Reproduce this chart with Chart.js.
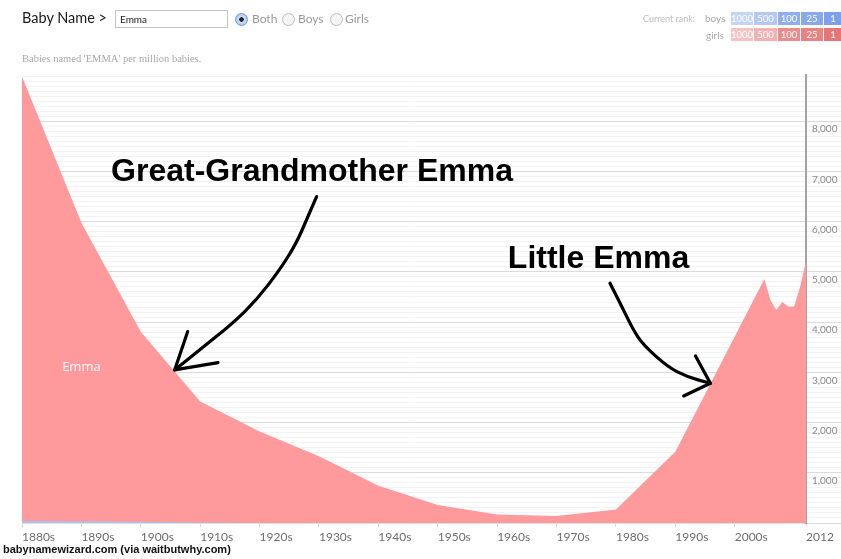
<!DOCTYPE html>
<html>
<head>
<meta charset="utf-8">
<script src="https://cdn.jsdelivr.net/npm/chart.js@4/dist/chart.umd.min.js"></script>
<style>
  body { margin: 0; background: #fff; font-family: Lato, "Open Sans", sans-serif; }
  #wrap { position: relative; width: 841px; height: 559px; overflow: hidden; }
  #chart { position: absolute; left: 0; top: 0; }
  .abs { position: absolute; white-space: nowrap; }
  .title { left: 22px; top: 9px; font-size: 14.5px; color: #1a1a1a; }
  .input { left: 115px; top: 10px; width: 107px; height: 16px; border: 1px solid #c4c4c4; font-size: 10px; line-height: 16px; padding-left: 4px; color: #222; }
  .radio { width: 11px; height: 11px; border-radius: 50%; border: 1px solid #bbb; background: #f4f4f4; }
  .radio.on { border-color: #6a9be0; background: radial-gradient(circle, #222 0 2px, #cfe2fb 2.5px, #8db8f0 100%); }
  .rlabel { font-size: 12px; color: #9a9a9a; top: 11px; }
  .sub { left: 22px; top: 53px; font-family: "Liberation Serif", "DejaVu Serif", serif; font-size: 10.5px; color: #a8a8a8; }
  .rank { font-size: 9px; color: #bdbdbd; }
  .box { height: 13px; font-size: 9.5px; color: #fff; text-align: center; line-height: 13px; }
  .foot { left: 3px; top: 543px; font-family: "Liberation Sans", Arial, sans-serif; font-weight: bold; font-size: 11px; color: #111; }
</style>
</head>
<body>
<div id="wrap">
  <canvas id="chart" width="841" height="559"></canvas>
  <div class="abs title">Baby Name &gt;</div>
  <div class="abs input">Emma</div>
  <div class="abs radio on" style="left:235px; top:13px"></div>
  <div class="abs rlabel" style="left:252px">Both</div>
  <div class="abs radio" style="left:282px; top:13px"></div>
  <div class="abs rlabel" style="left:298px">Boys</div>
  <div class="abs radio" style="left:330px; top:13px"></div>
  <div class="abs rlabel" style="left:345px">Girls</div>
  <div class="abs sub">Babies named 'EMMA' per million babies.</div>
  <div class="abs rank" style="left:643px; top:13px">Current rank:</div>
  <div class="abs rank" style="left:705px; top:12px; font-size:10px; color:#aaa">boys</div>
  <div class="abs rank" style="left:706px; top:29px; font-size:10px; color:#aaa">girls</div>
  <div id="boxes"></div>
  <div class="abs foot">babynamewizard.com (via waitbutwhy.com)</div>
</div>
<script>
// Emma, per million babies
const years = [1880, 1890, 1900, 1910, 1920, 1930, 1940, 1950, 1960, 1970, 1980, 1990, 2005, 2006, 2007, 2008, 2009, 2010, 2011, 2012];
const girls = [8890, 5980, 3810, 2420, 1820, 1330, 740, 360, 170, 140, 270, 1420, 4860, 4440, 4240, 4400, 4310, 4310, 4700, 5210];
const boys  = [40, 35, 25, 12, 0, 0, 0, 0, 0, 0, 0, 0, 0, 0, 0, 0, 0, 0, 0, 0];

const tickYears = [1880, 1890, 1900, 1910, 1920, 1930, 1940, 1950, 1960, 1970, 1980, 1990, 2000, 2012];
const tickLabels = ["1880s", "1890s", "1900s", "1910s", "1920s", "1930s", "1940s", "1950s", "1960s", "1970s", "1980s", "1990s", "2000s", "2012"];

const rankLabels = ["1000", "500", "100", "25", "1"];
const boyRankColors = ["#c5d5f6", "#b3c8f3", "#8eaeee", "#87a8ec", "#7e9fe9"];
const girlRankColors = ["#f6c3c3", "#f3b2b2", "#ec8b8b", "#ea8282", "#e67676"];

// annotations, in (year, per-million) space
const notes = [
  { text: "Great-Grandmother Emma", year: 1895.0, value: 6800 },
  { text: "Little Emma", year: 1961.8, value: 5080 }
];
const arrows = [
  { path: [[1929.6, 6500], [1927.9, 6036], [1926.2, 5572], [1923.4, 5040], [1919.5, 4442], [1915.5, 3978], [1909.9, 3446], [1905.7, 3048]],
    head: [[1907.9, 3811], [1905.7, 3048], [1913.0, 3193]] },
  { path: [[1979.0, 4775], [1980.7, 4382], [1982.9, 3845], [1984.6, 3546], [1988.7, 3108], [1992.0, 2908], [1995.9, 2783]],
    head: [[1993.4, 3327], [1995.9, 2783], [1991.4, 2530]] }
];

const widths = [22, 23, 22, 22, 18];
let bx = 731;
let html = "";
rankLabels.forEach((r, i) => {
  html += `<div class="abs box" style="left:${bx}px; top:12px; width:${widths[i]}px; background:${boyRankColors[i]}">${r}</div>`;
  html += `<div class="abs box" style="left:${bx}px; top:28px; width:${widths[i]}px; background:${girlRankColors[i]}">${r}</div>`;
  bx += widths[i] + 1;
});
document.getElementById("boxes").innerHTML = html;

const annotate = {
  id: "annotate",
  afterDatasetsDraw(chart) {
    const { ctx, scales: { x, y } } = chart;
    ctx.save();
    ctx.fillStyle = "#fff";
    ctx.font = "13px 'Open Sans', Lato, sans-serif";
    ctx.textAlign = "center";
    ctx.textBaseline = "middle";
    ctx.fillText("Emma", x.getPixelForValue(1890), y.getPixelForValue(3100));

    ctx.fillStyle = "#000";
    ctx.font = "bold 32px 'Liberation Sans', Arial, sans-serif";
    ctx.textAlign = "left";
    ctx.textBaseline = "alphabetic";
    notes.forEach(n => ctx.fillText(n.text, x.getPixelForValue(n.year), y.getPixelForValue(n.value)));

    ctx.strokeStyle = "#000";
    ctx.lineWidth = 3.2;
    ctx.lineCap = "round";
    ctx.lineJoin = "round";
    arrows.forEach(a => {
      const p = a.path.map(([yr, v]) => [x.getPixelForValue(yr), y.getPixelForValue(v)]);
      ctx.beginPath();
      ctx.moveTo(p[0][0], p[0][1]);
      for (let i = 1; i < p.length - 1; i++) {
        const mx = (p[i][0] + p[i + 1][0]) / 2, my = (p[i][1] + p[i + 1][1]) / 2;
        ctx.quadraticCurveTo(p[i][0], p[i][1], mx, my);
      }
      ctx.lineTo(p[p.length - 1][0], p[p.length - 1][1]);
      ctx.stroke();
      const h = a.head.map(([yr, v]) => [x.getPixelForValue(yr), y.getPixelForValue(v)]);
      ctx.beginPath();
      ctx.moveTo(h[0][0], h[0][1]);
      ctx.lineTo(h[1][0], h[1][1]);
      ctx.lineTo(h[2][0], h[2][1]);
      ctx.stroke();
    });
    ctx.restore();
  }
};

new Chart(document.getElementById("chart"), {
  type: "line",
  data: {
    datasets: [
      { label: "girls", data: years.map((yr, i) => ({ x: yr, y: girls[i] })), borderWidth: 0, pointRadius: 0, fill: "origin", backgroundColor: "#fe999c", tension: 0, order: 2 },
      { label: "boys", data: years.map((yr, i) => ({ x: yr, y: boys[i] })), borderWidth: 0, pointRadius: 0, fill: "origin", backgroundColor: "#a9c2f2", tension: 0, order: 1 }
    ]
  },
  options: {
    responsive: false,
    animation: false,
    layout: { padding: { left: 22, top: 75, right: 0, bottom: 0 } },
    plugins: { legend: { display: false }, tooltip: { enabled: false } },
    scales: {
      x: {
        type: "linear", min: 1880, max: 2012,
        afterBuildTicks: s => { s.ticks = tickYears.map(v => ({ value: v })); },
        afterFit: s => { s.height = 36; },
        grid: { drawOnChartArea: false, drawTicks: true, tickLength: 4, color: "#d8d8d8" },
        border: { color: "#e0e0e0", width: 1 },
        ticks: {
          align: "start", padding: 3, maxRotation: 0, autoSkip: false,
          color: "#6e6e6e", font: { family: "Lato", size: 12 },
          callback: (v, i) => tickLabels[i]
        }
      },
      y: {
        position: "right", min: 0, max: 8920,
        afterBuildTicks: s => { const t = []; for (let v = 0; v <= 8900; v += 100) t.push({ value: v }); s.ticks = t; },
        afterFit: s => { s.width = 35; },
        grid: {
          color: c => (c.tick && c.tick.value % 1000 === 0) ? "#dcdcdc" : "#f3f3f3",
          tickLength: 35
        },
        border: { color: "#a3a3a3", width: 2 },
        ticks: {
          padding: -29, labelOffset: 8, autoSkip: false,
          color: "#8a8a8a", font: { family: "Lato", size: 10 },
          callback: v => (v > 0 && v % 1000 === 0) ? v.toLocaleString("en-US") : ""
        }
      }
    }
  },
  plugins: [annotate]
});
</script>
</body>
</html>
